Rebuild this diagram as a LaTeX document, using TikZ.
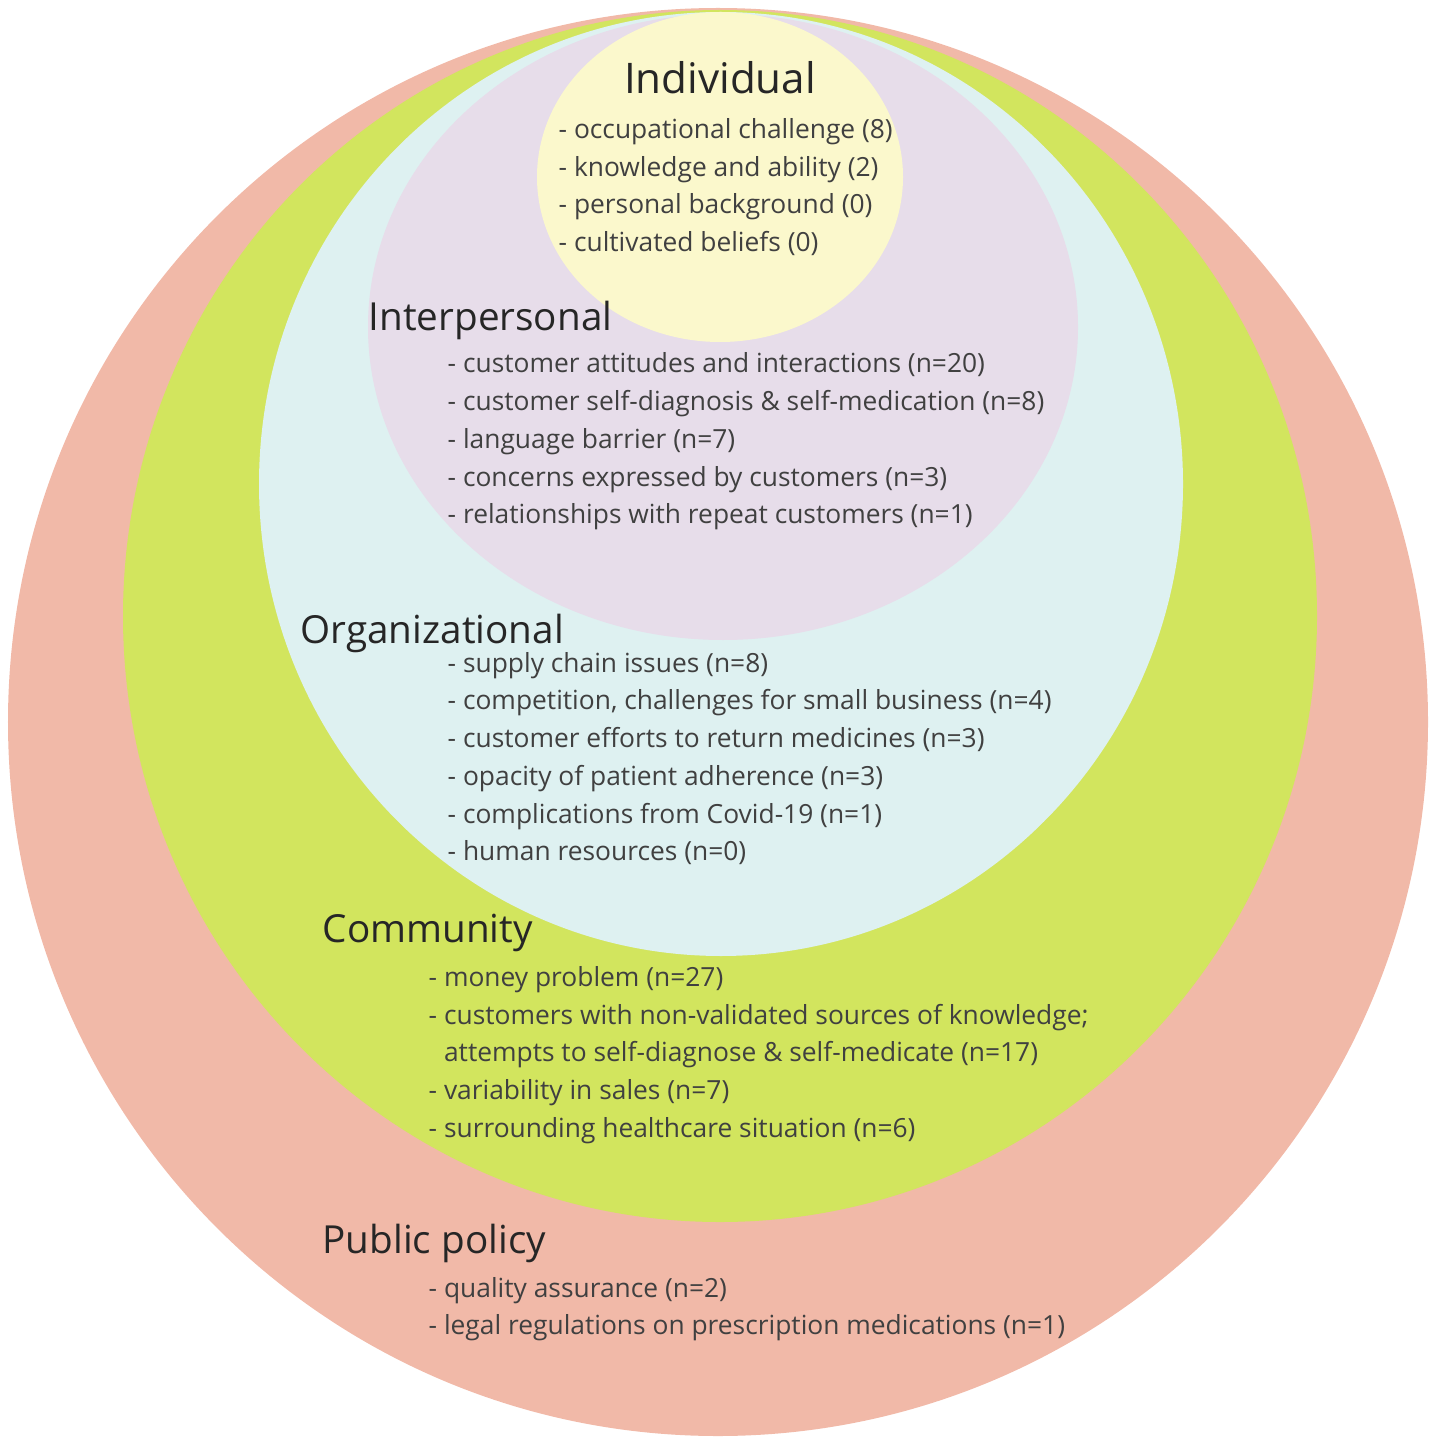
\documentclass[tikz,border=0pt]{standalone}
\usepackage{fontspec}
\setmainfont{Open Sans}
\definecolor{policyred}{RGB}{241,185,168}
\definecolor{communitygreen}{RGB}{210,229,94}
\definecolor{orgcyan}{RGB}{222,241,241}
\definecolor{interlilac}{RGB}{231,221,234}
\definecolor{indivyellow}{RGB}{251,248,204}

\begin{document}
\begin{tikzpicture}[title/.style = {anchor=west, inner sep=0pt, text=black!85, font=\fontsize{11}{13}\selectfont},
  items/.style = {anchor=west, inner sep=0pt, align=left, text=black!75, font=\fontsize{7.5}{10.73}\selectfont}]
\useasboundingbox (0,0) rectangle (14.28,-14.38);
% the five levels
\fill[policyred] (7.18,-7.22) ellipse [x radius=7.10, y radius=7.14];
\fill[communitygreen] (7.20,-6.16) ellipse [x radius=5.97, y radius=6.06];
\fill[orgcyan] (7.21,-4.84) ellipse [x radius=4.62, y radius=4.72];
\fill[interlilac] (7.23,-3.27) ellipse [x radius=3.55, y radius=3.13];
\fill[indivyellow] (7.20,-1.77) ellipse [x radius=1.83, y radius=1.65];
% titles
\node[title, anchor=center, font=\fontsize{12}{14}\selectfont] (indiv) at (7.20,-0.78) {Individual};
\node[title] (inter) at (3.68,-3.20) {Interpersonal};
\node[title] (org) at (3.00,-6.33) {Organizational};
\node[title] (comm) at (3.22,-9.33) {Community};
\node[title] (policy) at (3.22,-12.43) {Public policy};
% lists
\node[items] (indivlist) at (5.58,-1.87) {- occupational challenge (8)\\
- knowledge and ability (2)\\
- personal background (0)\\
- cultivated beliefs (0)};
\node[items] (interlist) at (4.47,-4.415) {- customer attitudes and interactions (n=20)\\
- customer self-diagnosis \& self-medication (n=8)\\
- language barrier (n=7)\\
- concerns expressed by customers (n=3)\\
- relationships with repeat customers (n=1)};
\node[items] (orglist) at (4.47,-7.585) {- supply chain issues (n=8)\\
- competition, challenges for small business (n=4)\\
- customer efforts to return medicines (n=3)\\
- opacity of patient adherence (n=3)\\
- complications from Covid-19 (n=1)\\
- human resources (n=0)};
\node[items] (commlist) at (4.28,-10.55) {- money problem (n=27)\\
- customers with non-validated sources of knowledge;\\
\hphantom{- }attempts to self-diagnose \& self-medicate (n=17)\\
- variability in sales (n=7)\\
- surrounding healthcare situation (n=6)};
\node[items] (policylist) at (4.28,-13.09) {- quality assurance (n=2)\\
- legal regulations on prescription medications (n=1)};
\end{tikzpicture}
\end{document}
